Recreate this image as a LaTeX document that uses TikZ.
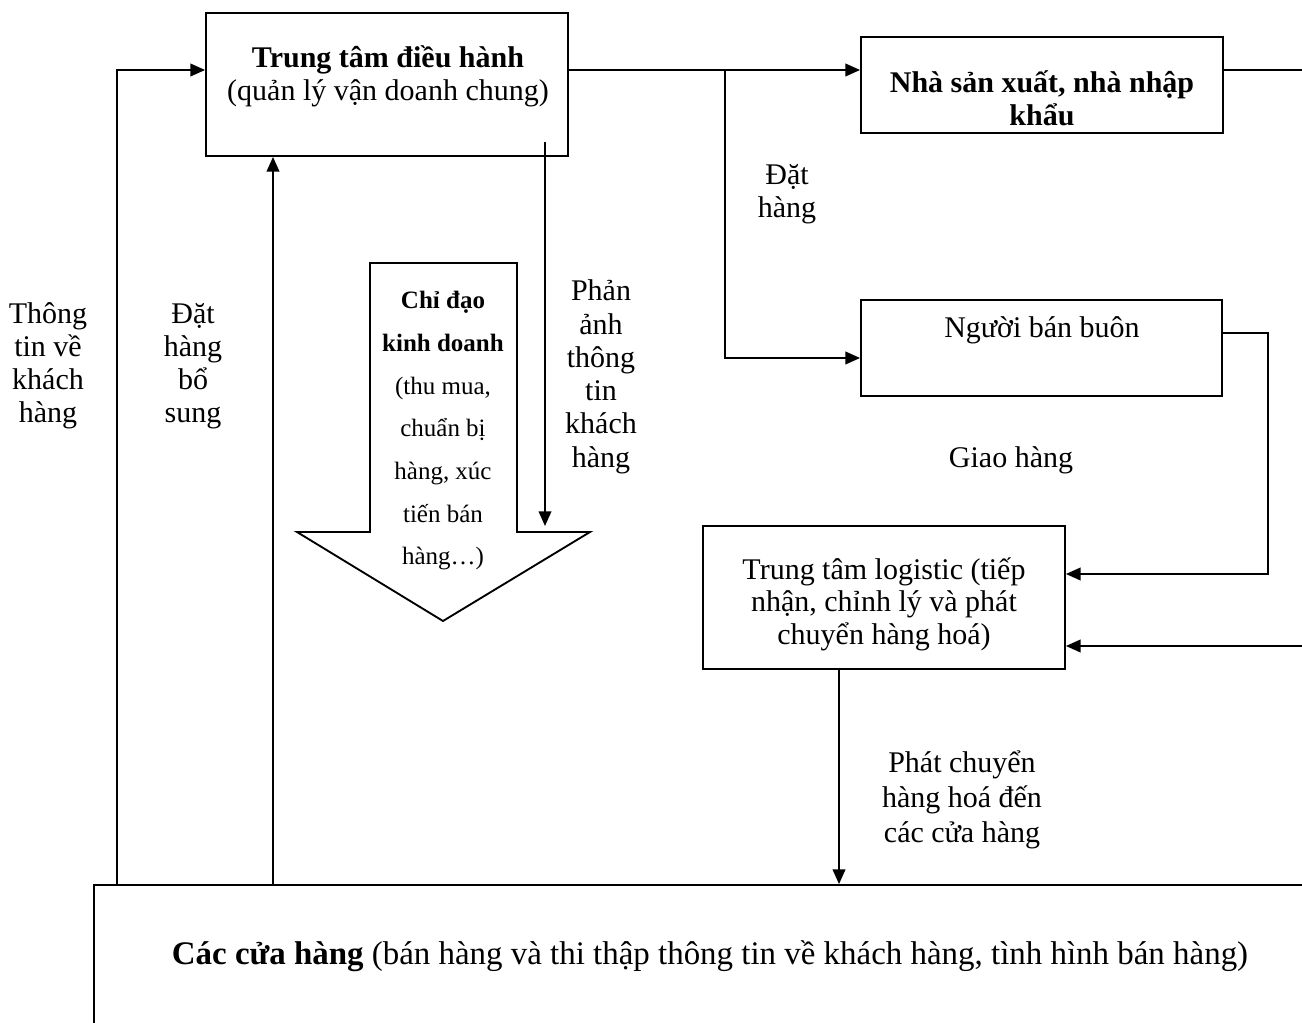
\documentclass[tikz,border=0pt]{standalone}
\usepackage{fontspec}
\setmainfont{Liberation Serif}
\usetikzlibrary{arrows.meta,fit}
% centred lines with a fixed baseline distance; the box baseline is that of the first line
\newcommand\txtlines[2]{\vtop{\baselineskip=#1\lineskiplimit=-1000pt\halign{\hfil##\hfil\cr#2\crcr}}}
\begin{document}
\begin{tikzpicture}[x=0.75pt,y=-0.75pt,
  box/.style={draw, line width=1.4pt, inner sep=0pt},
  conn/.style={line width=1.3pt},
  arr/.style={conn, -{Triangle[length=11pt,width=9.5pt]}},
  lbl/.style={inner sep=0pt, anchor=base, font=\fontsize{22.5}{27}\selectfont},
  small/.style={inner sep=0pt, anchor=base, font=\fontsize{18.75}{22}\selectfont}]
\useasboundingbox (0,0) rectangle (1302,1023);

% boxes
\node[box, fit={(206,13) (568,156)}] (ctrl) {};
\node[box, fit={(861,37) (1223,133)}] (maker) {};
\node[box, fit={(861,300) (1222,396)}] (whole) {};
\node[box, fit={(703,526) (1065,669)}] (logi) {};
\node[box, fit={(94,885) (1340,1060)}] (stores) {};

% box texts
\node[lbl] (ctrlT) at (388,68) {\txtlines{24.75pt}{\textbf{Trung tâm điều hành}\cr (quản lý vận doanh chung)}};
\node[lbl] (makerT) at (1042,93) {\txtlines{24.75pt}{\textbf{Nhà sản xuất, nhà nhập}\cr \textbf{khẩu}}};
\node[lbl] (wholeT) at (1042,338) {Người bán buôn};
\node[lbl] (logiT) at (884,579) {\txtlines{24.6pt}{Trung tâm logistic (tiếp\cr nhận, chỉnh lý và phát\cr chuyển hàng hoá)}};
\node[lbl, font=\fontsize{24.7}{29}\selectfont] (storesT) at (710,964) {\textbf{Các cửa hàng} (bán hàng và thi thập thông tin về khách hàng, tình hình bán hàng)};

% business-direction block arrow
\draw[line width=1.4pt, line join=miter] (370,263) -- (517,263) -- (517,532) -- (590,532)
  -- (443,621) -- (297,532) -- (370,532) -- cycle;
\node[small] (guide) at (443,309) {\txtlines{32pt}{\textbf{Chỉ đạo}\cr \textbf{kinh doanh}\cr (thu mua,\cr chuẩn bị\cr hàng, xúc\cr tiến bán\cr hàng…)}};

% connector labels
\node[lbl] (info) at (48,324) {\txtlines{24.75pt}{Thông\cr tin về\cr khách\cr hàng}};
\node[lbl] (reorder) at (193,324) {\txtlines{24.75pt}{Đặt\cr hàng\cr bổ\cr sung}};
\node[lbl] (order) at (787,185) {\txtlines{24.75pt}{Đặt\cr hàng}};
\node[lbl] (feedback) at (601,301) {\txtlines{24.9pt}{Phản\cr ảnh\cr thông\cr tin\cr khách\cr hàng}};
\node[lbl] (delivery) at (1011,467) {Giao hàng};
\node[lbl] (dispatch) at (962,772) {\txtlines{26.25pt}{Phát chuyển\cr hàng hoá đến\cr các cửa hàng}};

% connectors
\coordinate (split) at (725,70);
\coordinate (edgeA) at (1310,70);
\coordinate (edgeB) at (1310,646);
\coordinate (fbStart) at (545,142);
\coordinate (fbEnd) at (545,526);

\draw[arr] (stores.north -| 117,0) -- (117,70) -- (ctrl.west |- 0,70);
\draw[arr] (stores.north -| 273,0) -- (ctrl.south -| 273,0);
\draw[arr] (ctrl.east |- 0,70) -- (maker.west |- 0,70);
\draw[conn] (maker.east |- 0,70) -- (edgeA);
\draw[arr] (split) |- (whole.west |- 0,358);
\draw[arr] (whole.east |- 0,333) -| (1268,574) -- (logi.east |- 0,574);
\draw[arr] (edgeB) -- (logi.east |- 0,646);
\draw[arr] (logi.south -| 839,0) -- (stores.north -| 839,0);
\draw[arr] (fbStart) -- (fbEnd);
\end{tikzpicture}
\end{document}
